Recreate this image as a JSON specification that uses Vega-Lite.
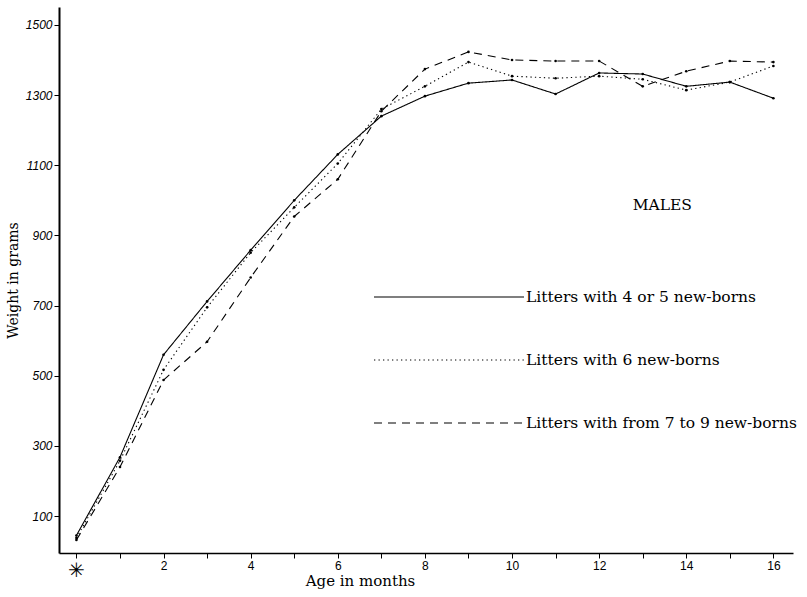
{
  "$schema": "https://vega.github.io/schema/vega-lite/v6.json",
  "width": 734,
  "height": 546,
  "autosize": {"type": "none"},
  "padding": {"left": 59, "top": 7, "right": 14, "bottom": 44},
  "background": "white",
  "config": {
    "view": {"stroke": null},
    "axis": {"grid": false, "domainColor": "black", "tickColor": "black", "labelColor": "black", "titleColor": "black", "titleFontWeight": "normal"}
  },
  "datasets": {
    "weights": [
      {"month": 0, "group": "Litters with 4 or 5 new-borns", "weight": 45},
      {"month": 1, "group": "Litters with 4 or 5 new-borns", "weight": 268},
      {"month": 2, "group": "Litters with 4 or 5 new-borns", "weight": 560},
      {"month": 3, "group": "Litters with 4 or 5 new-borns", "weight": 712},
      {"month": 4, "group": "Litters with 4 or 5 new-borns", "weight": 858},
      {"month": 5, "group": "Litters with 4 or 5 new-borns", "weight": 1000},
      {"month": 6, "group": "Litters with 4 or 5 new-borns", "weight": 1131},
      {"month": 7, "group": "Litters with 4 or 5 new-borns", "weight": 1240},
      {"month": 8, "group": "Litters with 4 or 5 new-borns", "weight": 1297},
      {"month": 9, "group": "Litters with 4 or 5 new-borns", "weight": 1334},
      {"month": 10, "group": "Litters with 4 or 5 new-borns", "weight": 1343},
      {"month": 11, "group": "Litters with 4 or 5 new-borns", "weight": 1303},
      {"month": 12, "group": "Litters with 4 or 5 new-borns", "weight": 1363},
      {"month": 13, "group": "Litters with 4 or 5 new-borns", "weight": 1360},
      {"month": 14, "group": "Litters with 4 or 5 new-borns", "weight": 1325},
      {"month": 15, "group": "Litters with 4 or 5 new-borns", "weight": 1337},
      {"month": 16, "group": "Litters with 4 or 5 new-borns", "weight": 1291},
      {"month": 0, "group": "Litters with 6 new-borns", "weight": 38},
      {"month": 1, "group": "Litters with 6 new-borns", "weight": 258},
      {"month": 2, "group": "Litters with 6 new-borns", "weight": 517},
      {"month": 3, "group": "Litters with 6 new-borns", "weight": 695},
      {"month": 4, "group": "Litters with 6 new-borns", "weight": 851},
      {"month": 5, "group": "Litters with 6 new-borns", "weight": 980},
      {"month": 6, "group": "Litters with 6 new-borns", "weight": 1105},
      {"month": 7, "group": "Litters with 6 new-borns", "weight": 1260},
      {"month": 8, "group": "Litters with 6 new-borns", "weight": 1325},
      {"month": 9, "group": "Litters with 6 new-borns", "weight": 1394},
      {"month": 10, "group": "Litters with 6 new-borns", "weight": 1354},
      {"month": 11, "group": "Litters with 6 new-borns", "weight": 1348},
      {"month": 12, "group": "Litters with 6 new-borns", "weight": 1354},
      {"month": 13, "group": "Litters with 6 new-borns", "weight": 1345},
      {"month": 14, "group": "Litters with 6 new-borns", "weight": 1314},
      {"month": 15, "group": "Litters with 6 new-borns", "weight": 1337},
      {"month": 16, "group": "Litters with 6 new-borns", "weight": 1383},
      {"month": 0, "group": "Litters with from 7 to 9 new-borns", "weight": 32},
      {"month": 1, "group": "Litters with from 7 to 9 new-borns", "weight": 240},
      {"month": 2, "group": "Litters with from 7 to 9 new-borns", "weight": 488},
      {"month": 3, "group": "Litters with from 7 to 9 new-borns", "weight": 597},
      {"month": 4, "group": "Litters with from 7 to 9 new-borns", "weight": 780},
      {"month": 5, "group": "Litters with from 7 to 9 new-borns", "weight": 954},
      {"month": 6, "group": "Litters with from 7 to 9 new-borns", "weight": 1060},
      {"month": 7, "group": "Litters with from 7 to 9 new-borns", "weight": 1254},
      {"month": 8, "group": "Litters with from 7 to 9 new-borns", "weight": 1374},
      {"month": 9, "group": "Litters with from 7 to 9 new-borns", "weight": 1423},
      {"month": 10, "group": "Litters with from 7 to 9 new-borns", "weight": 1400},
      {"month": 11, "group": "Litters with from 7 to 9 new-borns", "weight": 1397},
      {"month": 12, "group": "Litters with from 7 to 9 new-borns", "weight": 1397},
      {"month": 13, "group": "Litters with from 7 to 9 new-borns", "weight": 1325},
      {"month": 14, "group": "Litters with from 7 to 9 new-borns", "weight": 1368},
      {"month": 15, "group": "Litters with from 7 to 9 new-borns", "weight": 1397},
      {"month": 16, "group": "Litters with from 7 to 9 new-borns", "weight": 1394}
    ],
    "annotation": [{"label": "MALES"}]
  },
  "layer": [
    {
      "data": {"name": "weights"},
      "mark": {"type": "line", "color": "black", "strokeWidth": 1.1},
      "encoding": {
        "x": {
          "field": "month", "type": "quantitative",
          "scale": {"domain": [-0.4, 16.45], "nice": false, "zero": false},
          "axis": {
            "values": [0,1,2,3,4,5,6,7,8,9,10,11,12,13,14,15,16],
            "labelExpr": "datum.value == 0 ? '✳' : (datum.value % 2 == 0 ? datum.label : '')",
            "labelFont": "Liberation Sans",
            "labelFontSize": {"condition": {"test": "datum.value == 0", "value": 20}, "value": 12},
            "labelPadding": 2,
            "tickSize": 5,
            "domainWidth": 1.6,
            "title": "Age in months",
            "titleFont": "DejaVu Serif",
            "titleFontSize": 15,
            "titleX": 301,
            "titleY": 32,
            "titleBaseline": "alphabetic",
            "titleAlign": "center"
          }
        },
        "y": {
          "field": "weight", "type": "quantitative",
          "scale": {"domain": [-5, 1551], "nice": false, "zero": false},
          "axis": {
            "values": [100,200,300,400,500,600,700,800,900,1000,1100,1200,1300,1400,1500],
            "labelExpr": "(datum.value / 100) % 2 == 1 ? datum.label : ''",
            "labelFont": "Liberation Sans",
            "labelFontStyle": "italic",
            "labelFontSize": 12,
            "labelPadding": 2,
            "tickSize": 5,
            "domainWidth": 2,
            "format": "d",
            "title": "Weight in grams",
            "titleFont": "DejaVu Serif",
            "titleFontSize": 14,
            "titlePadding": 5
          }
        },
        "strokeDash": {
          "field": "group", "type": "nominal",
          "scale": {
            "domain": ["Litters with 4 or 5 new-borns", "Litters with 6 new-borns", "Litters with from 7 to 9 new-borns"],
            "range": [[1, 0], [1.3, 3.2], [8, 6]]
          },
          "legend": {
            "orient": "none",
            "legendX": 314,
            "legendY": 274,
            "title": null,
            "symbolType": "M-1,0H9",
            "symbolSize": 900,
            "symbolStrokeWidth": 1.1,
            "symbolStrokeColor": "black",
            "labelFont": "DejaVu Serif",
            "labelFontSize": 15.5,
            "labelColor": "black",
            "labelOffset": 121,
            "labelLimit": 400,
            "rowPadding": 38
          }
        }
      }
    },
    {
      "data": {"name": "weights"},
      "mark": {"type": "point", "filled": true, "color": "black", "size": 7, "opacity": 1},
      "encoding": {
        "x": {"field": "month", "type": "quantitative"},
        "y": {"field": "weight", "type": "quantitative"}
      }
    },
    {
      "data": {"name": "annotation"},
      "mark": {"type": "text", "font": "DejaVu Serif", "fontSize": 15.5, "color": "black", "align": "center", "baseline": "middle"},
      "encoding": {
        "x": {"datum": 13.45},
        "y": {"datum": 987},
        "text": {"field": "label"}
      }
    }
  ]
}
